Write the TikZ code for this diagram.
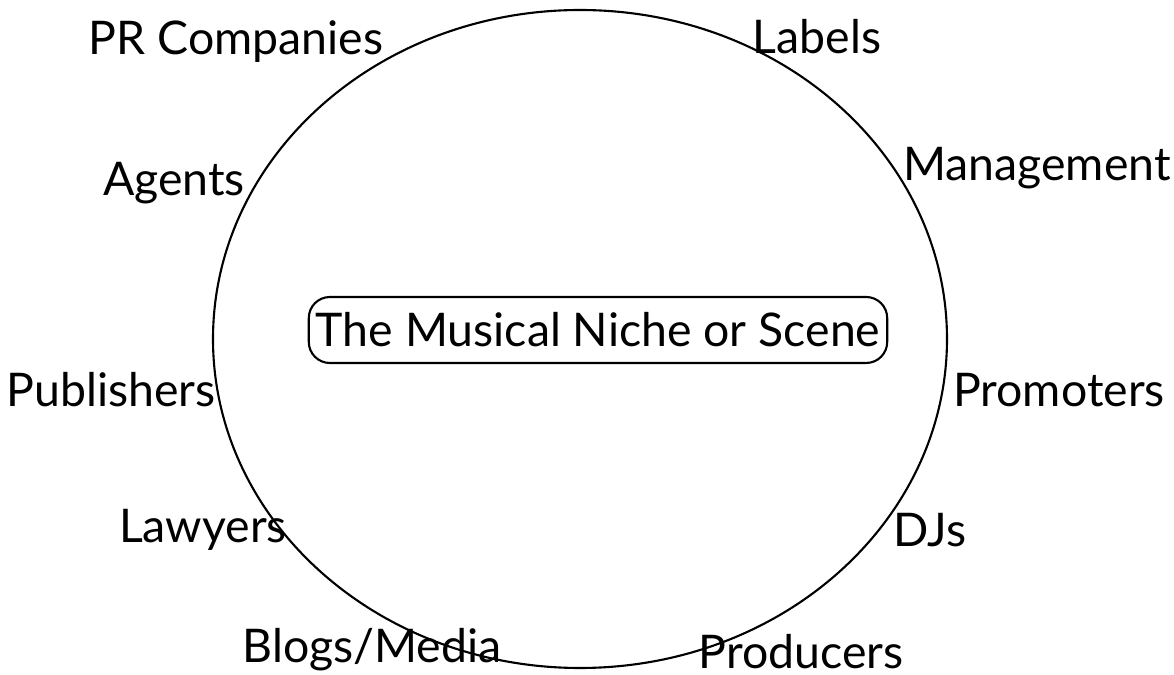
\documentclass[tikz,border=0pt]{standalone}
\usepackage{fontspec}
\setmainfont{Lato}
\begin{document}
\begin{tikzpicture}[line width=0.6pt,
  actor/.style={font=\fontsize{13.2}{16}\selectfont,inner sep=0pt},
  niche/.style={draw,rounded corners=6pt,font=\fontsize{13.2}{16}\selectfont,inner xsep=2pt,minimum height=0.66cm}]
	\useasboundingbox (0,0) rectangle (11.74,6.75);
	\draw (5.80,3.36) ellipse (3.67 and 3.29);
	\node[niche] (scene) at (5.98,3.45) {The Musical Niche or Scene};
	\node[actor] (pr) at (2.36,6.33) {PR Companies};
	\node[actor] (labels) at (8.17,6.38) {Labels};
	\node[actor] (management) at (10.37,5.07) {Management};
	\node[actor] (agents) at (1.74,4.92) {Agents};
	\node[actor] (publishers) at (1.11,2.85) {Publishers};
	\node[actor] (promoters) at (10.59,2.85) {Promoters};
	\node[actor] (lawyers) at (2.03,1.45) {Lawyers};
	\node[actor] (djs) at (9.30,1.45) {DJs};
	\node[actor] (blogs) at (3.72,0.25) {Blogs/Media};
	\node[actor] (producers) at (8.01,0.23) {Producers};
\end{tikzpicture}
\end{document}
